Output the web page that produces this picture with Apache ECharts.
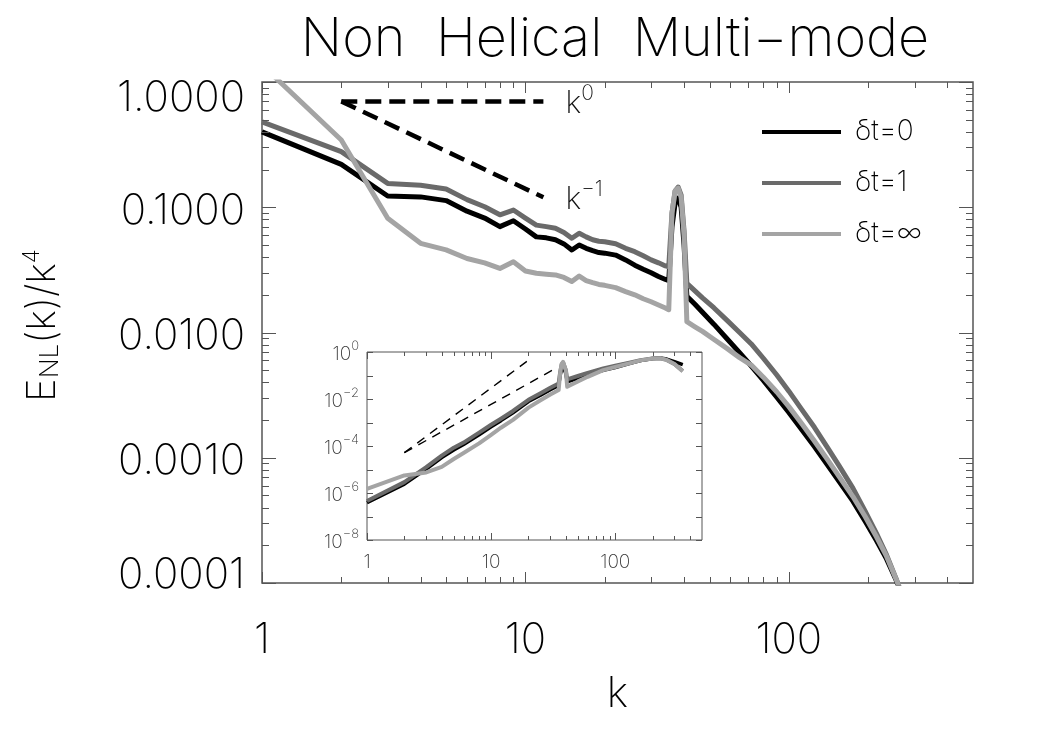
<!DOCTYPE html>
<html>
<head>
<meta charset="utf-8">
<script src="https://cdn.jsdelivr.net/npm/echarts@6/dist/echarts.min.js"></script>
<style>
html,body{margin:0;padding:0;background:#fff;}
#chart{width:1050px;height:750px;}
</style>
</head>
<body>
<div id="chart"></div>
<script>
// ---------------- data ----------------
const kMain = [1,2,3,4,5,6,7,8,9,10,11,12,13,14,15,16,17,18,19,20,22,24,26,28,30,32,34,35,36,37,38,39,40,41,44,47,52,58,65,72,80,90,100,112,125,140,155,175,195,215,235,255,280,310,350];
const mainDt0 = [0.40,0.22,0.123,0.121,0.113,0.093,0.082,0.070,0.078,0.067,0.058,0.057,0.055,0.051,0.0456,0.050,0.047,0.045,0.0435,0.043,0.0415,0.038,0.0345,0.032,0.030,0.028,0.0265,0.026,0.07,0.108,0.118,0.10,0.05,0.0195,0.0168,0.0145,0.0116,0.0090,0.0069,0.0054,0.00415,0.00305,0.0023,0.00167,0.00123,0.00088,0.00065,0.00045,0.00031,0.000218,0.000155,0.000106,6.5e-5,3.7e-5,1.7e-5];
const mainDt1 = [0.48,0.278,0.155,0.150,0.140,0.115,0.101,0.087,0.095,0.082,0.072,0.070,0.068,0.063,0.0565,0.062,0.058,0.055,0.0535,0.053,0.0512,0.047,0.0442,0.041,0.038,0.036,0.034,0.0335,0.09,0.135,0.145,0.125,0.065,0.0247,0.0215,0.0189,0.0157,0.0126,0.0100,0.0081,0.00623,0.00458,0.0034,0.00242,0.00175,0.00121,0.000865,0.000572,0.000372,0.000249,0.000167,0.000109,6.5e-5,3.5e-5,1.5e-5];
const mainDtInf = [1.37,0.344,0.0816,0.0515,0.0457,0.039,0.036,0.0325,0.0367,0.031,0.0297,0.0292,0.0288,0.0275,0.0255,0.0282,0.026,0.025,0.0242,0.0238,0.0228,0.0212,0.020,0.0186,0.0176,0.0166,0.0157,0.0152,0.09,0.135,0.142,0.12,0.06,0.0122,0.0111,0.0102,0.0088,0.0075,0.0063,0.0055,0.0044,0.00335,0.00256,0.00187,0.00136,0.00097,0.00071,0.00049,0.000338,0.000234,0.000163,0.000108,6.6e-5,3.6e-5,1.6e-5];

const refK = [2, 11.7];
const refK0 = [0.7, 0.7];
const refKm1 = [0.7, 0.12];

const kInset = [1,2,3,4,5,6,8,10,12,15,20,25,30,35,36,37,38,39,40,41,50,60,80,100,130,160,200,230,260,300,350];
const insetDt0 = [3.9e-7,2.4e-6,1.05e-5,3.2e-5,6.8e-5,1.15e-4,3.0e-4,6.6e-4,1.2e-3,2.6e-3,7.8e-3,1.45e-2,2.5e-2,3.8e-2,0.10,0.20,0.25,0.22,0.12,0.054,0.075,0.105,0.165,0.22,0.32,0.43,0.53,0.55,0.50,0.39,0.29];
const insetDt1 = [4.6e-7,2.9e-6,1.25e-5,3.9e-5,8.5e-5,1.4e-4,3.7e-4,8.0e-4,1.45e-3,3.1e-3,9.2e-3,1.75e-2,3.0e-2,4.6e-2,0.14,0.29,0.36,0.32,0.17,0.068,0.095,0.13,0.20,0.26,0.35,0.45,0.53,0.54,0.46,0.31,0.155];
const insetDtInf = [1.5e-6,5.6e-6,7.5e-6,1.3e-5,2.8e-5,5.0e-5,1.3e-4,3.0e-4,6.0e-4,1.3e-3,4.3e-3,8.8e-3,1.55e-2,2.4e-2,0.13,0.31,0.38,0.34,0.16,0.033,0.056,0.088,0.17,0.23,0.33,0.44,0.53,0.54,0.46,0.31,0.15];

const insetRefK4K = [2, 19.4];
const insetRefK4 = [5.2e-5, 0.40];
const insetRefK3K = [2, 30.9];
const insetRefK3 = [5.2e-5, 0.164];

// ---------------- ticks and labels ----------------
const mainXTickValues = [1, 10, 100];
const mainXTickLabels = ['1', '10', '100'];
const mainXMinorTicks = [2,3,4,5,6,7,8,9,20,30,40,50,60,70,80,90,200,300,400];
const mainYTickValues = [1e-4, 1e-3, 1e-2, 1e-1, 1];
const mainYTickLabels = ['0.0001', '0.0010', '0.0100', '0.1000', '1.0000'];
const mainYMinorTicks = [2e-4,3e-4,4e-4,5e-4,6e-4,7e-4,8e-4,9e-4,2e-3,3e-3,4e-3,5e-3,6e-3,7e-3,8e-3,9e-3,2e-2,3e-2,4e-2,5e-2,6e-2,7e-2,8e-2,9e-2,0.2,0.3,0.4,0.5,0.6,0.7,0.8,0.9];
const insetXTickValues = [1, 10, 100];
const insetXTickLabels = ['1', '10', '100'];
const insetXMinorTicks = [2,3,4,5,6,7,8,9,20,30,40,50,60,70,80,90,200,300,400];
const insetYTicks = [1e-8,1e-7,1e-6,1e-5,1e-4,1e-3,1e-2,1e-1,1];
const insetYTickValues = [1e-8, 1e-6, 1e-4, 1e-2, 1];
const insetYTickExps = ['\u22128', '\u22126', '\u22124', '\u22122', '0'];

const seriesNames = ['\u03b4t=0', '\u03b4t=1', '\u03b4t=\u221e'];
const seriesColors = ['#000000', '#6a6a6a', '#a4a4a4'];

// ---------------- chart ----------------
const FONT = "Inter, 'DejaVu Sans', sans-serif";
const FW = 200;
const FRAME = '#555555';

function findIdx(list, v) {
  for (let i = 0; i < list.length; i++) {
    if (Math.abs(Math.log10(v / list[i])) < 0.01) return i;
  }
  return -1;
}
function pairs(xs, ys) { return xs.map((x, i) => [x, ys[i]]); }

function tickSeries(xi, yi, axis, values, len, refOther) {
  return {
    type: 'custom', xAxisIndex: xi, yAxisIndex: yi, silent: true, clip: false, z: 10,
    animation: false,
    data: values.map(v => axis === 'x' ? [v, refOther] : [refOther, v]),
    encode: { x: 0, y: 1 },
    renderItem: function (params, api) {
      const cs = params.coordSys;
      const st = { stroke: FRAME, lineWidth: 1 };
      if (axis === 'x') {
        const x = Math.round(api.coord([api.value(0), refOther])[0]) + 0.5;
        const b = cs.y + cs.height, t = cs.y;
        return { type: 'group', children: [
          { type: 'line', shape: { x1: x, y1: b, x2: x, y2: b - len }, style: st },
          { type: 'line', shape: { x1: x, y1: t, x2: x, y2: t + len }, style: st }
        ] };
      } else {
        const y = Math.round(api.coord([refOther, api.value(1)])[1]) + 0.5;
        const l = cs.x, r = cs.x + cs.width;
        return { type: 'group', children: [
          { type: 'line', shape: { x1: l, y1: y, x2: l + len, y2: y }, style: st },
          { type: 'line', shape: { x1: r, y1: y, x2: r - len, y2: y }, style: st }
        ] };
      }
    }
  };
}

function curve(name, xi, yi, xs, ys, color, width, z) {
  return {
    type: 'line', name: name, xAxisIndex: xi, yAxisIndex: yi,
    data: pairs(xs, ys), showSymbol: false, symbol: 'none', clip: true,
    color: color,
    lineStyle: { color: color, width: width, join: 'round' },
    itemStyle: { color: color },
    z: z, animation: false
  };
}

function refLine(xs, ys, xi, yi, width, dash, label) {
  const s = {
    type: 'line', xAxisIndex: xi, yAxisIndex: yi, data: pairs(xs, ys),
    showSymbol: false, symbol: 'none', clip: true, animation: false, silent: true,
    lineStyle: { color: '#000', width: width, type: dash, cap: 'butt' },
    z: 4
  };
  if (label) {
    s.endLabel = {
      show: true, formatter: label, distance: 22,
      rich: {
        b: { fontSize: 31, fontFamily: FONT, fontWeight: FW, color: '#111', lineHeight: 36, verticalAlign: 'bottom' },
        s: { fontSize: 21, fontFamily: FONT, fontWeight: FW, color: '#111', lineHeight: 24, verticalAlign: 'top' }
      }
    };
  }
  return s;
}

const labRich = (pad) => ({ fontSize: 42, fontFamily: FONT, fontWeight: FW, color: '#000', padding: pad });

const option = {
  backgroundColor: '#ffffff',
  animation: false,
  graphic: [{
    type: 'text', x: 615, y: 40, silent: true,
    style: { text: 'Non  Helical  Multi\u2212mode', fontSize: 54, fontFamily: FONT, fontWeight: FW, fill: '#000',
      align: 'center', verticalAlign: 'middle', textAlign: 'center', textVerticalAlign: 'middle' }
  }],
  legend: {
    data: seriesNames, orient: 'vertical', left: 762, top: 117, padding: 0,
    itemWidth: 79, itemHeight: 4, itemGap: 21, icon: 'rect',
    textStyle: { fontSize: 28, fontFamily: FONT, fontWeight: FW, color: '#000', lineHeight: 30, padding: [0, 0, 0, 9] },
    selectedMode: false
  },
  grid: [
    { left: 262, top: 82, width: 711, height: 501, show: true, borderColor: FRAME, borderWidth: 1.5, backgroundColor: 'transparent' },
    { left: 367, top: 352, width: 335, height: 188, show: true, borderColor: FRAME, borderWidth: 1, backgroundColor: 'transparent' }
  ],
  xAxis: [
    {
      type: 'log', logBase: 10, gridIndex: 0, min: 1, max: 500,
      axisLine: { show: false, onZero: false }, axisTick: { show: false }, splitLine: { show: false },
      axisLabel: {
        showMaxLabel: false, margin: 33, fontSize: 42, fontFamily: FONT, fontWeight: FW, color: '#000', lineHeight: 48,
        formatter: v => { const i = findIdx(mainXTickValues, v); return i < 0 ? '' : mainXTickLabels[i]; }
      },
      name: 'k', nameLocation: 'middle', nameGap: 57,
      nameTextStyle: { fontSize: 42, fontFamily: FONT, fontWeight: FW, color: '#000', lineHeight: 50 }
    },
    {
      type: 'log', logBase: 10, gridIndex: 1, min: 1, max: 500,
      axisLine: { show: false, onZero: false }, axisTick: { show: false }, splitLine: { show: false },
      axisLabel: {
        showMaxLabel: false, margin: 11, fontSize: 19, fontFamily: FONT, fontWeight: FW, color: '#333', lineHeight: 22,
        formatter: v => { const i = findIdx(insetXTickValues, v); return i < 0 ? '' : insetXTickLabels[i]; }
      }
    }
  ],
  yAxis: [
    {
      type: 'log', logBase: 10, gridIndex: 0, min: 1e-4, max: 1,
      axisLine: { show: false, onZero: false }, axisTick: { show: false }, splitLine: { show: false },
      axisLabel: {
        margin: 17,
        formatter: v => {
          const i = findIdx(mainYTickValues, v);
          if (i < 0) return '';
          const s = i === 0 ? 'lo' : (i === mainYTickValues.length - 1 ? 'hi' : 'mid');
          return '{' + s + '|' + mainYTickLabels[i] + '}';
        },
        rich: { lo: labRich([0, 0, 16, 0]), mid: labRich([8, 0, 0, 0]), hi: labRich([32, 0, 0, 0]) }
      },
      name: '{b|E}{sub|NL}{b|(k)/k}{sup|4}', nameLocation: 'middle', nameRotate: 90, nameGap: 199,
      nameTextStyle: {
        padding: [0, 0, 0, 14],
        rich: {
          b: { fontSize: 40, fontFamily: FONT, fontWeight: FW, color: '#000', lineHeight: 42, verticalAlign: 'bottom' },
          sub: { fontSize: 26, fontFamily: FONT, fontWeight: FW, color: '#000', lineHeight: 26, verticalAlign: 'bottom' },
          sup: { fontSize: 23, fontFamily: FONT, fontWeight: FW, color: '#000', lineHeight: 20, verticalAlign: 'top' }
        }
      }
    },
    {
      type: 'log', logBase: 10, gridIndex: 1, min: 1e-8, max: 1,
      axisLine: { show: false, onZero: false }, axisTick: { show: false }, splitLine: { show: false },
      axisLabel: {
        margin: 8,
        formatter: v => {
          const i = findIdx(insetYTickValues, v);
          return i < 0 ? '' : '{b|10}{s|' + insetYTickExps[i] + '}';
        },
        rich: {
          b: { fontSize: 19, fontFamily: FONT, fontWeight: FW, color: '#333', lineHeight: 24, verticalAlign: 'bottom' },
          s: { fontSize: 13, fontFamily: FONT, fontWeight: FW, color: '#333', lineHeight: 15, verticalAlign: 'top' }
        }
      }
    }
  ],
  series: [
    tickSeries(0, 0, 'x', mainXTickValues, 11, 0.01),
    tickSeries(0, 0, 'x', mainXMinorTicks, 6, 0.01),
    tickSeries(0, 0, 'y', mainYTickValues, 14, 10),
    tickSeries(0, 0, 'y', mainYMinorTicks, 7, 10),
    tickSeries(1, 1, 'x', insetXTickValues, 7, 1e-4),
    tickSeries(1, 1, 'x', insetXMinorTicks, 4, 1e-4),
    tickSeries(1, 1, 'y', insetYTicks, 6, 10),

    refLine(refK, refK0, 0, 0, 4.5, [16, 8], '{b|k}{s|0}'),
    refLine(refK, refKm1, 0, 0, 4.5, [16, 8], '{b|k}{s|\u22121}'),
    refLine(insetRefK4K, insetRefK4, 1, 1, 1.4, [9, 7], null),
    refLine(insetRefK3K, insetRefK3, 1, 1, 1.4, [9, 7], null),

    curve(seriesNames[0], 0, 0, kMain, mainDt0, seriesColors[0], 5, 5),
    curve(seriesNames[1], 0, 0, kMain, mainDt1, seriesColors[1], 5, 6),
    curve(seriesNames[2], 0, 0, kMain, mainDtInf, seriesColors[2], 5, 7),

    curve(seriesNames[0], 1, 1, kInset, insetDt0, seriesColors[0], 3.5, 5),
    curve(seriesNames[1], 1, 1, kInset, insetDt1, seriesColors[1], 4, 6),
    curve(seriesNames[2], 1, 1, kInset, insetDtInf, seriesColors[2], 4, 7)
  ]
};

const chart = echarts.init(document.getElementById('chart'), null, { renderer: 'canvas' });
chart.setOption(option);
</script>
</body>
</html>
